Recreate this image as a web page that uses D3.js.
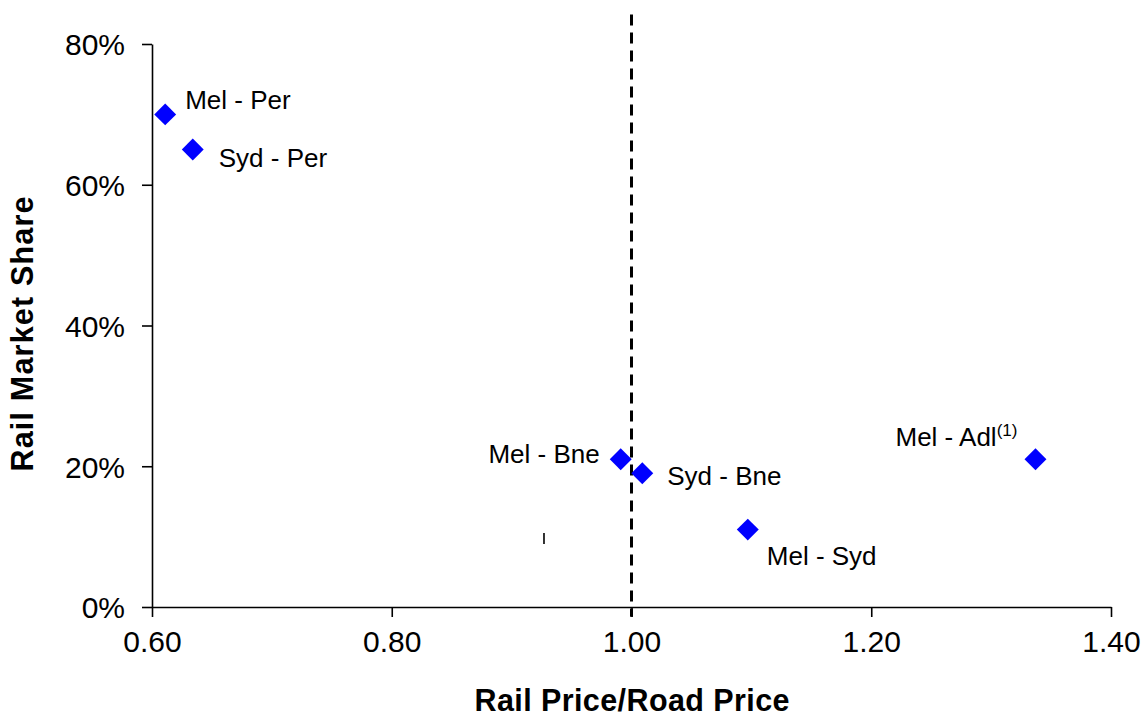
<!DOCTYPE html>
<html>
<head>
<meta charset="utf-8">
<script src="https://cdn.jsdelivr.net/npm/d3@7"></script>
<style>
  html, body { margin: 0; padding: 0; background: #fff; }
  svg { display: block; font-family: "Liberation Sans", Arial, sans-serif; }
</style>
</head>
<body>
<svg id="chart" width="1145" height="722"></svg>
<script>
// Corridor data: rail/road price ratio vs rail market share
const routes = ["Mel - Per", "Syd - Per", "Mel - Bne", "Syd - Bne", "Mel - Syd", "Mel - Adl"];
const priceRatio = [0.611, 0.634, 0.991, 1.009, 1.097, 1.337];
const railShare = [0.70, 0.65, 0.21, 0.19, 0.11, 0.21];
const routeNotes = ["", "", "", "", "", "(1)"];

const xTicks = [0.60, 0.80, 1.00, 1.20, 1.40];
const yTicks = [0, 0.20, 0.40, 0.60, 0.80];

// parity line (rail price equals road price)
const parityX = 1.00;
const parityRange = [-0.014, 0.842];

// small stray marker near the lower middle
const strayMarks = [{ x: 0.927, y: 0.098 }];

const W = 1145, H = 722;
const svg = d3.select("#chart");

const x = d3.scaleLinear().domain([0.6, 1.4]).range([152, 1111]);
const y = d3.scaleLinear().domain([0, 0.8]).range([607, 44]);

// label placement relative to each marker: dx, dy, anchor
const labelPos = [
  { dx: 20, dy: -5, anchor: "start" },
  { dx: 26, dy: 17, anchor: "start" },
  { dx: -21, dy: 4, anchor: "end" },
  { dx: 25, dy: 12, anchor: "start" },
  { dx: 19, dy: 35, anchor: "start" },
  { dx: -140, dy: -13, anchor: "start" }
];

// axes
const xAxis = d3.axisBottom(x).tickValues(xTicks).tickFormat(d3.format(".2f"))
  .tickSizeInner(10).tickSizeOuter(0).tickPadding(14);
const yAxis = d3.axisLeft(y).tickValues(yTicks).tickFormat(d3.format(".0%"))
  .tickSizeInner(10).tickSizeOuter(0).tickPadding(17);

const gx = svg.append("g").attr("transform", `translate(0,${y(0)})`).call(xAxis);
const gy = svg.append("g").attr("transform", `translate(${x(0.6)},0)`).call(yAxis);

[gx, gy].forEach(g => {
  g.select(".domain").attr("stroke", "#000").attr("stroke-width", 1.6);
  g.selectAll(".tick line").attr("stroke", "#000").attr("stroke-width", 1.6);
  g.selectAll(".tick text").attr("fill", "#000").attr("font-size", 30)
    .attr("font-family", "'Liberation Sans', Arial, sans-serif");
});
gy.selectAll(".tick text").attr("dy", "0.36em");

// parity line
svg.append("line")
  .attr("x1", x(parityX)).attr("x2", x(parityX))
  .attr("y1", y(parityRange[1])).attr("y2", y(parityRange[0]))
  .attr("stroke", "#000").attr("stroke-width", 3)
  .attr("stroke-dasharray", "11,7");

// stray marks
svg.selectAll("line.stray").data(strayMarks).enter().append("line")
  .attr("class", "stray")
  .attr("x1", d => x(d.x)).attr("x2", d => x(d.x))
  .attr("y1", d => y(d.y) - 5).attr("y2", d => y(d.y) + 6)
  .attr("stroke", "#000").attr("stroke-width", 1.6);

// data points
const pts = routes.map((r, i) => ({ name: r, note: routeNotes[i], px: priceRatio[i], share: railShare[i], lp: labelPos[i] }));

const diamond = d3.symbol().type(d3.symbolSquare).size(240);
svg.selectAll("path.pt").data(pts).enter().append("path")
  .attr("class", "pt")
  .attr("d", diamond)
  .attr("transform", d => `translate(${x(d.px)},${y(d.share)}) rotate(45)`)
  .attr("fill", "#0000ff");

const labels = svg.selectAll("text.lbl").data(pts).enter().append("text")
  .attr("class", "lbl")
  .attr("x", d => x(d.px) + d.lp.dx)
  .attr("y", d => y(d.share) + d.lp.dy)
  .attr("text-anchor", d => d.lp.anchor)
  .attr("font-size", 26)
  .attr("fill", "#000");
labels.append("tspan").text(d => d.name);
labels.filter(d => d.note).append("tspan")
  .attr("font-size", 17).attr("dy", -10).text(d => d.note);

// axis titles
svg.append("text")
  .attr("x", 632).attr("y", 711)
  .attr("text-anchor", "middle")
  .attr("font-size", 30.5).attr("font-weight", "bold")
  .attr("textLength", 315).attr("lengthAdjust", "spacing")
  .text("Rail Price/Road Price");

svg.append("text")
  .attr("transform", "translate(33,334) rotate(-90)")
  .attr("text-anchor", "middle")
  .attr("font-size", 30.5).attr("font-weight", "bold")
  .attr("textLength", 275).attr("lengthAdjust", "spacing")
  .text("Rail Market Share");
</script>
</body>
</html>
